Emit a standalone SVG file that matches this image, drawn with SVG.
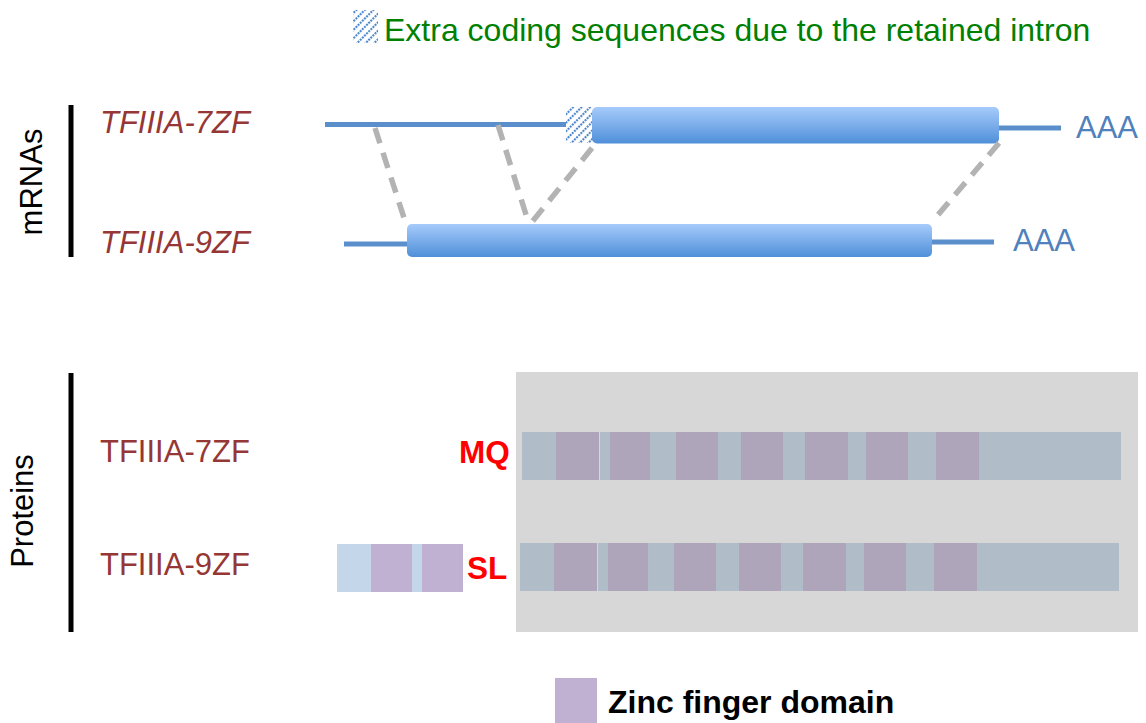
<svg xmlns="http://www.w3.org/2000/svg" width="1146" height="723" viewBox="0 0 1146 723">
<style>
text{font-family:"Liberation Sans",Arial,sans-serif}
.lbl{fill:#953735;font-size:31px}
.ital{font-style:italic}
.aaa{fill:#4f81bd;font-size:31px}
.ax{fill:#000;font-size:31px}
.red{fill:#ff0000;font-size:31.5px;font-weight:bold}
.utr{stroke:#5b8fcb;stroke-width:5;fill:none}
.dash{stroke:#b3b3b3;stroke-width:5.5;stroke-dasharray:16 10;fill:none}
.vbar{stroke:#000;stroke-width:5}
.b1{fill:#c4d6ea}
.z1{fill:#c0b1d3}
</style>
<defs>
<linearGradient id="cds" x1="0" y1="0" x2="0" y2="1">
<stop offset="0" stop-color="#a6cbfb"/>
<stop offset="1" stop-color="#4f8fd9"/>
</linearGradient>
<pattern id="hatch" width="6" height="6" patternUnits="userSpaceOnUse" patternTransform="rotate(45)">
<rect width="6" height="6" fill="#ffffff"/>
<line x1="1" y1="0" x2="1" y2="6" stroke="#4f86cc" stroke-width="2.2" stroke-dasharray="2 1"/>
</pattern>
</defs>

<g id="legend-top">
<rect x="353" y="10" width="25" height="33" fill="url(#hatch)"/>
<text x="384" y="41" font-size="32" fill="#008000">Extra coding sequences due to the retained intron</text>
</g>

<g id="axis-mrna">
<line class="vbar" x1="71" y1="105" x2="71" y2="257"/>
<text class="ax" transform="translate(42,182) rotate(-90)" text-anchor="middle">mRNAs</text>
</g>
<g id="axis-protein">
<line class="vbar" x1="71" y1="373" x2="71" y2="632"/>
<text class="ax" transform="translate(33,511) rotate(-90)" text-anchor="middle">Proteins</text>
</g>

<g id="mrna-7zf">
<text class="lbl ital" x="100" y="133">TFIIIA-7ZF</text>
<line class="utr" x1="325" y1="124.5" x2="567" y2="124.5"/>
<rect x="566" y="107" width="27" height="36" fill="url(#hatch)"/>
<line class="utr" x1="997" y1="128" x2="1061" y2="128"/>
<rect x="592" y="107" width="407" height="36.5" rx="5" fill="url(#cds)"/>
<text class="aaa" x="1076" y="138">AAA</text>
</g>

<g id="mrna-9zf">
<text class="lbl ital" x="100" y="253">TFIIIA-9ZF</text>
<line class="utr" x1="344" y1="244" x2="410" y2="244"/>
<line class="utr" x1="930" y1="242" x2="994" y2="242"/>
<rect x="407" y="224" width="525" height="33" rx="5" fill="url(#cds)"/>
<text class="aaa" x="1013" y="251">AAA</text>
</g>

<g id="connectors">
<line class="dash" x1="375" y1="128" x2="405" y2="221"/>
<line class="dash" x1="498" y1="125" x2="528" y2="221"/>
<line class="dash" x1="592" y1="148" x2="532" y2="222"/>
<line class="dash" x1="999" y1="143" x2="937" y2="216"/>
</g>

<g id="protein-7zf">
<text class="lbl" x="100" y="462">TFIIIA-7ZF</text>
<text class="red" x="459" y="463">MQ</text>
<rect class="b1" x="522" y="432" width="599" height="48"/>
<rect class="z1" x="556" y="432" width="43" height="48"/>
<rect x="599" y="432" width="1" height="48" fill="#ffffff"/>
<rect class="z1" x="610" y="432" width="40" height="48"/>
<rect class="z1" x="676" y="432" width="42" height="48"/>
<rect class="z1" x="741" y="432" width="42" height="48"/>
<rect class="z1" x="805" y="432" width="43" height="48"/>
<rect class="z1" x="866" y="432" width="42" height="48"/>
<rect class="z1" x="936" y="432" width="43" height="48"/>
</g>

<g id="protein-9zf">
<text class="lbl" x="100" y="575">TFIIIA-9ZF</text>
<rect class="b1" x="337" y="544" width="126" height="48"/>
<rect class="z1" x="371" y="544" width="41" height="48"/>
<rect class="z1" x="422" y="544" width="41" height="48"/>
<text class="red" x="467" y="579">SL</text>
<rect class="b1" x="520" y="543" width="599" height="48"/>
<rect class="z1" x="554" y="543" width="43" height="48"/>
<rect x="597" y="543" width="1" height="48" fill="#ffffff"/>
<rect class="z1" x="608" y="543" width="40" height="48"/>
<rect class="z1" x="674" y="543" width="42" height="48"/>
<rect class="z1" x="739" y="543" width="42" height="48"/>
<rect class="z1" x="803" y="543" width="43" height="48"/>
<rect class="z1" x="864" y="543" width="42" height="48"/>
<rect class="z1" x="934" y="543" width="43" height="48"/>
</g>

<g id="shared-region">
<rect x="516" y="372" width="622" height="260" fill="#8e8e8e" fill-opacity="0.356"/>
</g>

<g id="legend-bottom">
<rect class="z1" x="555" y="678" width="42" height="45"/>
<text x="608" y="713" font-size="32" font-weight="bold" fill="#000">Zinc finger domain</text>
</g>
</svg>
